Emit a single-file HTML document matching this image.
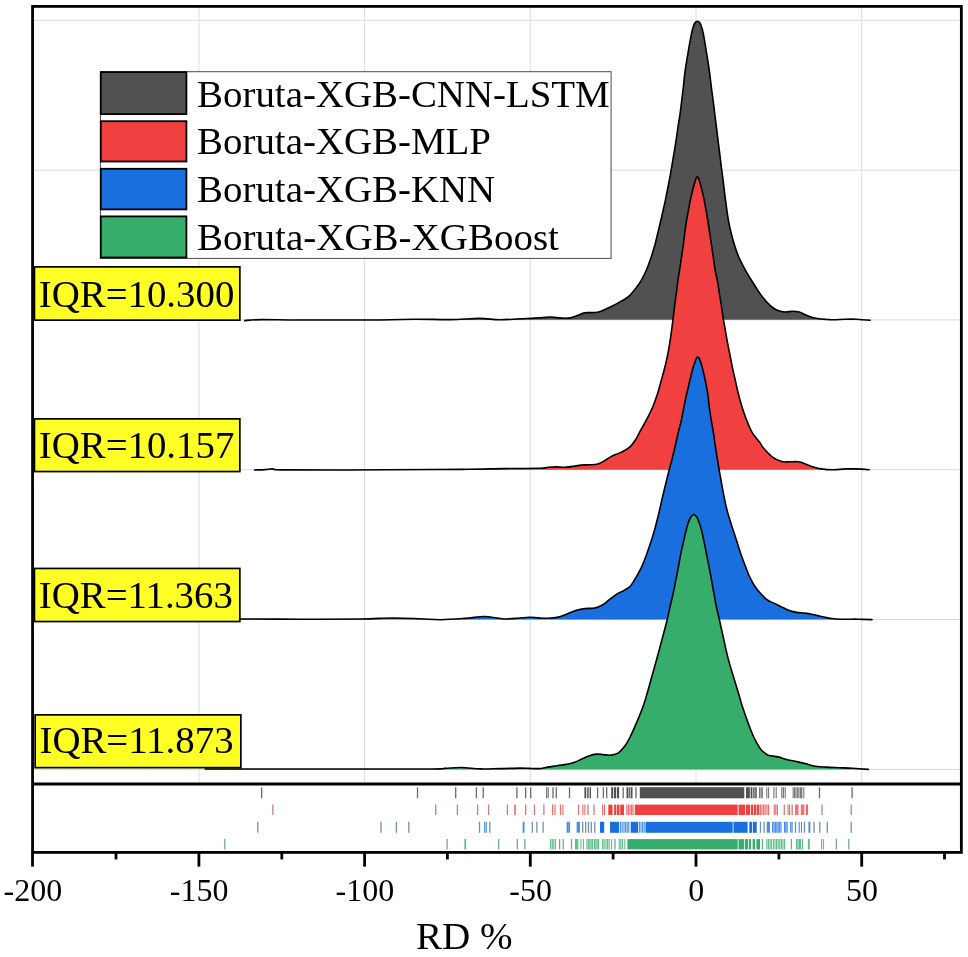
<!DOCTYPE html>
<html lang="en"><head><meta charset="utf-8"><title>RD % ridgeline</title>
<style>
html,body{margin:0;padding:0;background:#fff;}
body{width:968px;height:957px;overflow:hidden;}
svg{display:block;}
text{font-family:"Liberation Serif","Times New Roman",serif;fill:#000;}
</style></head><body>
<svg width="968" height="957" viewBox="0 0 968 957">
<rect width="968" height="957" fill="#fff"/>

<g stroke="#dcdcdc" stroke-width="1" fill="none">
<line x1="32.55" y1="20.3" x2="961.35" y2="20.3"/>
<line x1="32.55" y1="170.1" x2="961.35" y2="170.1"/>
<line x1="32.55" y1="319.9" x2="961.35" y2="319.9"/>
<line x1="32.55" y1="469.7" x2="961.35" y2="469.7"/>
<line x1="32.55" y1="619.5" x2="961.35" y2="619.5"/>
<line x1="32.55" y1="769.4" x2="961.35" y2="769.4"/>
<line x1="198.9" y1="6.4" x2="198.9" y2="784.0"/>
<line x1="364.6" y1="6.4" x2="364.6" y2="784.0"/>
<line x1="530.3" y1="6.4" x2="530.3" y2="784.0"/>
<line x1="696.0" y1="6.4" x2="696.0" y2="784.0"/>
<line x1="861.7" y1="6.4" x2="861.7" y2="784.0"/>
</g>
<g>
<rect x="100.4" y="71.7" width="510.7" height="186.7" fill="#fff" stroke="#4a4a4a" stroke-width="1"/>
<rect x="100.8" y="72.1" width="85.6" height="42.0" fill="#515151" stroke="#000" stroke-width="1.8"/>
<rect x="100.8" y="121.2" width="85.6" height="40.3" fill="#F14040" stroke="#000" stroke-width="1.8"/>
<rect x="100.8" y="168.8" width="85.6" height="40.6" fill="#1A6FDF" stroke="#000" stroke-width="1.8"/>
<rect x="100.8" y="216.4" width="85.6" height="41.1" fill="#37AD6B" stroke="#000" stroke-width="1.8"/>
<text transform="translate(197.08,106.6) scale(1.0237,1)" font-size="38">Boruta-XGB-CNN-LSTM</text>
<text transform="translate(197.08,154.2) scale(1.0237,1)" font-size="38">Boruta-XGB-MLP</text>
<text transform="translate(197.08,202.1) scale(1.0237,1)" font-size="38">Boruta-XGB-KNN</text>
<text transform="translate(197.07,249.7) scale(1.0268,1)" font-size="38">Boruta-XGB-XGBoost</text>
</g>
<path d="M244.7,320.6C247.6,320.4 252.8,319.7 262.0,319.6C271.2,319.5 280.3,319.9 300.0,320.0C319.7,320.1 361.0,320.1 380.0,320.0C399.0,319.9 402.3,319.3 414.0,319.2C425.7,319.1 439.2,319.7 450.0,319.6C460.8,319.5 470.8,318.4 479.0,318.4C487.2,318.4 492.2,319.7 499.0,319.8C505.8,319.9 513.2,319.1 520.0,318.8C526.8,318.5 535.0,318.2 540.0,317.9C545.0,317.6 547.1,317.1 549.9,317.0C552.6,316.9 554.0,317.4 556.5,317.6C559.0,317.8 562.3,318.3 564.8,318.3C567.3,318.3 569.2,318.1 571.4,317.6C573.6,317.1 575.8,316.1 578.0,315.3C580.2,314.5 582.1,313.3 584.6,312.9C587.1,312.4 590.4,312.8 592.9,312.6C595.4,312.4 596.8,312.7 599.5,311.8C602.2,310.9 606.1,309.0 609.4,307.4C612.7,305.8 616.0,304.3 619.3,302.4C622.6,300.5 626.3,298.6 629.3,295.8C632.3,293.1 635.5,288.5 637.5,285.9C639.5,283.3 639.8,282.9 641.3,280.3C642.8,277.7 644.7,274.1 646.3,270.3C647.9,266.6 649.6,262.0 651.0,257.8C652.4,253.6 653.6,249.4 654.8,245.2C655.9,241.0 656.9,236.9 657.9,232.7C658.9,228.5 660.0,224.1 660.9,220.2C661.8,216.3 662.6,212.4 663.3,209.5C663.9,206.6 664.1,206.1 664.8,202.9C665.5,199.7 666.5,194.5 667.3,190.3C668.1,186.1 669.0,182.0 669.8,177.8C670.6,173.6 671.3,169.4 672.0,165.2C672.7,161.0 673.4,156.9 674.1,152.7C674.8,148.5 675.5,144.4 676.1,140.2C676.7,136.0 677.3,131.8 677.9,127.6C678.5,123.4 679.3,119.3 679.9,115.1C680.5,110.9 680.9,107.1 681.5,102.5C682.1,97.9 682.7,92.6 683.3,87.6C683.9,82.6 684.3,77.3 684.9,72.7C685.5,68.1 686.1,64.4 686.8,60.2C687.5,56.0 688.2,51.8 688.9,47.6C689.6,43.4 690.6,38.2 691.2,35.1C691.8,32.0 692.1,30.8 692.7,28.8C693.3,26.8 694.0,24.2 694.8,23.0C695.6,21.8 696.4,21.3 697.3,21.3C698.1,21.3 699.1,21.8 699.9,23.0C700.7,24.2 701.5,26.8 702.1,28.8C702.7,30.8 703.0,32.0 703.6,35.1C704.2,38.2 705.0,43.4 705.7,47.6C706.4,51.8 707.1,56.0 707.7,60.2C708.4,64.4 709.0,68.1 709.6,72.7C710.2,77.3 710.8,82.6 711.4,87.6C712.0,92.6 712.8,97.9 713.4,102.5C714.0,107.1 714.4,110.9 714.9,115.1C715.4,119.3 716.0,123.4 716.5,127.6C717.0,131.8 717.5,136.0 718.0,140.2C718.5,144.4 719.1,148.5 719.6,152.7C720.1,156.9 720.6,161.0 721.1,165.2C721.6,169.4 722.3,173.6 722.8,177.8C723.3,182.0 723.8,186.1 724.3,190.3C724.8,194.5 725.2,197.9 725.9,202.9C726.6,207.9 727.5,215.3 728.4,220.2C729.2,225.1 730.0,228.4 731.0,232.5C732.0,236.6 733.2,240.8 734.5,245.0C735.8,249.2 737.2,253.4 739.0,257.5C740.8,261.6 743.0,265.7 745.2,269.8C747.5,273.9 750.1,278.1 752.5,282.0C754.9,285.9 757.4,289.8 759.7,293.1C762.0,296.4 764.2,299.3 766.5,301.8C768.8,304.3 771.1,306.4 773.3,308.0C775.5,309.6 777.4,310.4 779.5,311.1C781.6,311.8 783.5,312.0 785.7,312.0C787.9,312.0 790.2,311.2 792.5,311.2C794.8,311.2 797.1,311.4 799.3,312.0C801.5,312.6 803.4,313.9 805.5,314.8C807.6,315.7 809.4,316.6 811.7,317.3C814.0,318.0 816.5,318.4 819.2,318.8C821.9,319.2 825.3,319.3 827.8,319.5C830.3,319.7 831.1,319.9 834.0,319.8C836.9,319.8 841.3,319.3 845.0,319.2C848.7,319.1 852.0,319.0 856.2,319.2C860.4,319.4 867.8,320.0 870.1,320.2L870.1,319.8L244.7,319.8Z" fill="#515151" stroke="none"/>
<path d="M244.7,320.6C247.6,320.4 252.8,319.7 262.0,319.6C271.2,319.5 280.3,319.9 300.0,320.0C319.7,320.1 361.0,320.1 380.0,320.0C399.0,319.9 402.3,319.3 414.0,319.2C425.7,319.1 439.2,319.7 450.0,319.6C460.8,319.5 470.8,318.4 479.0,318.4C487.2,318.4 492.2,319.7 499.0,319.8C505.8,319.9 513.2,319.1 520.0,318.8C526.8,318.5 535.0,318.2 540.0,317.9C545.0,317.6 547.1,317.1 549.9,317.0C552.6,316.9 554.0,317.4 556.5,317.6C559.0,317.8 562.3,318.3 564.8,318.3C567.3,318.3 569.2,318.1 571.4,317.6C573.6,317.1 575.8,316.1 578.0,315.3C580.2,314.5 582.1,313.3 584.6,312.9C587.1,312.4 590.4,312.8 592.9,312.6C595.4,312.4 596.8,312.7 599.5,311.8C602.2,310.9 606.1,309.0 609.4,307.4C612.7,305.8 616.0,304.3 619.3,302.4C622.6,300.5 626.3,298.6 629.3,295.8C632.3,293.1 635.5,288.5 637.5,285.9C639.5,283.3 639.8,282.9 641.3,280.3C642.8,277.7 644.7,274.1 646.3,270.3C647.9,266.6 649.6,262.0 651.0,257.8C652.4,253.6 653.6,249.4 654.8,245.2C655.9,241.0 656.9,236.9 657.9,232.7C658.9,228.5 660.0,224.1 660.9,220.2C661.8,216.3 662.6,212.4 663.3,209.5C663.9,206.6 664.1,206.1 664.8,202.9C665.5,199.7 666.5,194.5 667.3,190.3C668.1,186.1 669.0,182.0 669.8,177.8C670.6,173.6 671.3,169.4 672.0,165.2C672.7,161.0 673.4,156.9 674.1,152.7C674.8,148.5 675.5,144.4 676.1,140.2C676.7,136.0 677.3,131.8 677.9,127.6C678.5,123.4 679.3,119.3 679.9,115.1C680.5,110.9 680.9,107.1 681.5,102.5C682.1,97.9 682.7,92.6 683.3,87.6C683.9,82.6 684.3,77.3 684.9,72.7C685.5,68.1 686.1,64.4 686.8,60.2C687.5,56.0 688.2,51.8 688.9,47.6C689.6,43.4 690.6,38.2 691.2,35.1C691.8,32.0 692.1,30.8 692.7,28.8C693.3,26.8 694.0,24.2 694.8,23.0C695.6,21.8 696.4,21.3 697.3,21.3C698.1,21.3 699.1,21.8 699.9,23.0C700.7,24.2 701.5,26.8 702.1,28.8C702.7,30.8 703.0,32.0 703.6,35.1C704.2,38.2 705.0,43.4 705.7,47.6C706.4,51.8 707.1,56.0 707.7,60.2C708.4,64.4 709.0,68.1 709.6,72.7C710.2,77.3 710.8,82.6 711.4,87.6C712.0,92.6 712.8,97.9 713.4,102.5C714.0,107.1 714.4,110.9 714.9,115.1C715.4,119.3 716.0,123.4 716.5,127.6C717.0,131.8 717.5,136.0 718.0,140.2C718.5,144.4 719.1,148.5 719.6,152.7C720.1,156.9 720.6,161.0 721.1,165.2C721.6,169.4 722.3,173.6 722.8,177.8C723.3,182.0 723.8,186.1 724.3,190.3C724.8,194.5 725.2,197.9 725.9,202.9C726.6,207.9 727.5,215.3 728.4,220.2C729.2,225.1 730.0,228.4 731.0,232.5C732.0,236.6 733.2,240.8 734.5,245.0C735.8,249.2 737.2,253.4 739.0,257.5C740.8,261.6 743.0,265.7 745.2,269.8C747.5,273.9 750.1,278.1 752.5,282.0C754.9,285.9 757.4,289.8 759.7,293.1C762.0,296.4 764.2,299.3 766.5,301.8C768.8,304.3 771.1,306.4 773.3,308.0C775.5,309.6 777.4,310.4 779.5,311.1C781.6,311.8 783.5,312.0 785.7,312.0C787.9,312.0 790.2,311.2 792.5,311.2C794.8,311.2 797.1,311.4 799.3,312.0C801.5,312.6 803.4,313.9 805.5,314.8C807.6,315.7 809.4,316.6 811.7,317.3C814.0,318.0 816.5,318.4 819.2,318.8C821.9,319.2 825.3,319.3 827.8,319.5C830.3,319.7 831.1,319.9 834.0,319.8C836.9,319.8 841.3,319.3 845.0,319.2C848.7,319.1 852.0,319.0 856.2,319.2C860.4,319.4 867.8,320.0 870.1,320.2" fill="none" stroke="#000" stroke-width="1.6" stroke-linejoin="round" stroke-linecap="round"/>
<path d="M254.5,470.0C256.2,469.9 262.0,469.8 265.0,469.6C268.0,469.4 269.8,468.8 272.6,468.8C275.4,468.9 269.1,469.7 282.0,469.9C294.9,470.1 324.7,470.1 350.0,470.0C375.3,469.9 414.0,469.6 434.0,469.5C454.0,469.4 458.5,469.4 470.0,469.3C481.5,469.2 491.3,468.8 503.0,468.6C514.7,468.4 532.5,468.5 540.0,468.3C547.5,468.1 545.5,467.5 548.3,467.3C551.0,467.1 553.8,466.9 556.5,466.9C559.2,466.9 562.0,467.4 564.8,467.3C567.6,467.2 570.4,466.8 573.1,466.4C575.9,466.0 578.5,465.4 581.3,465.1C584.0,464.8 586.8,465.0 589.6,464.8C592.4,464.6 595.1,464.8 597.9,464.0C600.6,463.2 603.6,461.2 606.1,459.8C608.6,458.4 610.2,456.9 612.7,455.7C615.2,454.5 618.2,453.8 621.0,452.4C623.8,451.0 626.8,449.6 629.3,447.4C631.8,445.2 634.1,441.9 635.9,439.2C637.7,436.5 638.3,434.6 640.0,431.4C641.7,428.2 644.2,424.1 646.3,420.1C648.4,416.1 650.6,411.9 652.5,407.5C654.4,403.1 656.1,398.0 657.6,393.5C659.1,389.0 660.1,384.6 661.3,380.3C662.5,376.0 663.7,372.0 664.7,367.8C665.8,363.6 666.8,359.4 667.6,355.2C668.5,351.0 669.1,346.9 669.8,342.7C670.5,338.5 671.0,334.4 671.6,330.2C672.2,326.0 672.7,321.8 673.2,317.6C673.7,313.4 674.2,309.3 674.7,305.1C675.2,300.9 675.9,296.7 676.4,292.5C676.9,288.3 677.5,283.7 678.0,280.0C678.5,276.3 678.9,274.0 679.5,270.3C680.1,266.6 680.8,262.0 681.4,257.8C682.0,253.6 682.7,249.4 683.3,245.2C683.9,241.0 684.2,236.9 684.8,232.7C685.3,228.5 685.9,224.4 686.6,220.2C687.3,216.0 688.1,211.8 688.9,207.6C689.7,203.4 690.4,199.3 691.4,195.1C692.4,190.9 694.0,185.2 694.8,182.5C695.6,179.8 695.6,179.6 696.0,178.6C696.4,177.6 696.8,176.7 697.3,176.7C697.8,176.7 698.3,177.6 698.7,178.6C699.1,179.6 699.2,179.8 699.9,182.5C700.6,185.2 702.1,190.9 703.1,195.1C704.1,199.3 704.8,203.4 705.6,207.6C706.4,211.8 707.0,216.0 707.7,220.2C708.4,224.4 709.0,228.5 709.6,232.7C710.2,236.9 710.9,241.0 711.5,245.2C712.1,249.4 712.8,253.6 713.4,257.8C714.0,262.0 714.5,266.4 715.2,270.3C715.9,274.2 716.8,277.8 717.5,281.5C718.2,285.2 718.6,288.6 719.2,292.5C719.8,296.4 720.6,300.9 721.3,305.1C721.9,309.3 722.4,313.4 723.1,317.6C723.8,321.8 724.6,326.0 725.3,330.2C726.0,334.4 726.7,338.5 727.5,342.7C728.3,346.9 729.2,351.0 730.0,355.2C730.8,359.4 731.6,363.6 732.5,367.8C733.4,372.0 734.3,376.0 735.3,380.3C736.3,384.6 737.1,389.0 738.3,393.5C739.4,398.0 740.8,403.1 742.2,407.5C743.6,411.9 744.9,415.9 746.6,420.1C748.3,424.3 750.0,428.9 752.2,432.6C754.4,436.4 758.2,440.1 760.0,442.6C761.8,445.1 761.1,445.4 763.2,447.8C765.3,450.2 769.4,454.8 772.5,457.1C775.6,459.4 779.0,460.8 781.8,461.6C784.6,462.4 786.5,461.8 789.3,461.8C792.1,461.8 795.7,461.4 798.5,461.8C801.3,462.2 803.5,463.3 806.0,464.2C808.5,465.1 810.9,466.2 813.4,467.0C815.9,467.8 817.5,468.4 820.9,468.9C824.3,469.4 829.9,469.8 833.9,469.8C837.9,469.8 841.3,469.0 845.0,468.9C848.7,468.8 852.2,468.8 856.2,468.9C860.2,469.0 867.0,469.6 869.2,469.8L869.2,469.8L254.5,469.8Z" fill="#F14040" stroke="none"/>
<path d="M254.5,470.0C256.2,469.9 262.0,469.8 265.0,469.6C268.0,469.4 269.8,468.8 272.6,468.8C275.4,468.9 269.1,469.7 282.0,469.9C294.9,470.1 324.7,470.1 350.0,470.0C375.3,469.9 414.0,469.6 434.0,469.5C454.0,469.4 458.5,469.4 470.0,469.3C481.5,469.2 491.3,468.8 503.0,468.6C514.7,468.4 532.5,468.5 540.0,468.3C547.5,468.1 545.5,467.5 548.3,467.3C551.0,467.1 553.8,466.9 556.5,466.9C559.2,466.9 562.0,467.4 564.8,467.3C567.6,467.2 570.4,466.8 573.1,466.4C575.9,466.0 578.5,465.4 581.3,465.1C584.0,464.8 586.8,465.0 589.6,464.8C592.4,464.6 595.1,464.8 597.9,464.0C600.6,463.2 603.6,461.2 606.1,459.8C608.6,458.4 610.2,456.9 612.7,455.7C615.2,454.5 618.2,453.8 621.0,452.4C623.8,451.0 626.8,449.6 629.3,447.4C631.8,445.2 634.1,441.9 635.9,439.2C637.7,436.5 638.3,434.6 640.0,431.4C641.7,428.2 644.2,424.1 646.3,420.1C648.4,416.1 650.6,411.9 652.5,407.5C654.4,403.1 656.1,398.0 657.6,393.5C659.1,389.0 660.1,384.6 661.3,380.3C662.5,376.0 663.7,372.0 664.7,367.8C665.8,363.6 666.8,359.4 667.6,355.2C668.5,351.0 669.1,346.9 669.8,342.7C670.5,338.5 671.0,334.4 671.6,330.2C672.2,326.0 672.7,321.8 673.2,317.6C673.7,313.4 674.2,309.3 674.7,305.1C675.2,300.9 675.9,296.7 676.4,292.5C676.9,288.3 677.5,283.7 678.0,280.0C678.5,276.3 678.9,274.0 679.5,270.3C680.1,266.6 680.8,262.0 681.4,257.8C682.0,253.6 682.7,249.4 683.3,245.2C683.9,241.0 684.2,236.9 684.8,232.7C685.3,228.5 685.9,224.4 686.6,220.2C687.3,216.0 688.1,211.8 688.9,207.6C689.7,203.4 690.4,199.3 691.4,195.1C692.4,190.9 694.0,185.2 694.8,182.5C695.6,179.8 695.6,179.6 696.0,178.6C696.4,177.6 696.8,176.7 697.3,176.7C697.8,176.7 698.3,177.6 698.7,178.6C699.1,179.6 699.2,179.8 699.9,182.5C700.6,185.2 702.1,190.9 703.1,195.1C704.1,199.3 704.8,203.4 705.6,207.6C706.4,211.8 707.0,216.0 707.7,220.2C708.4,224.4 709.0,228.5 709.6,232.7C710.2,236.9 710.9,241.0 711.5,245.2C712.1,249.4 712.8,253.6 713.4,257.8C714.0,262.0 714.5,266.4 715.2,270.3C715.9,274.2 716.8,277.8 717.5,281.5C718.2,285.2 718.6,288.6 719.2,292.5C719.8,296.4 720.6,300.9 721.3,305.1C721.9,309.3 722.4,313.4 723.1,317.6C723.8,321.8 724.6,326.0 725.3,330.2C726.0,334.4 726.7,338.5 727.5,342.7C728.3,346.9 729.2,351.0 730.0,355.2C730.8,359.4 731.6,363.6 732.5,367.8C733.4,372.0 734.3,376.0 735.3,380.3C736.3,384.6 737.1,389.0 738.3,393.5C739.4,398.0 740.8,403.1 742.2,407.5C743.6,411.9 744.9,415.9 746.6,420.1C748.3,424.3 750.0,428.9 752.2,432.6C754.4,436.4 758.2,440.1 760.0,442.6C761.8,445.1 761.1,445.4 763.2,447.8C765.3,450.2 769.4,454.8 772.5,457.1C775.6,459.4 779.0,460.8 781.8,461.6C784.6,462.4 786.5,461.8 789.3,461.8C792.1,461.8 795.7,461.4 798.5,461.8C801.3,462.2 803.5,463.3 806.0,464.2C808.5,465.1 810.9,466.2 813.4,467.0C815.9,467.8 817.5,468.4 820.9,468.9C824.3,469.4 829.9,469.8 833.9,469.8C837.9,469.8 841.3,469.0 845.0,468.9C848.7,468.8 852.2,468.8 856.2,468.9C860.2,469.0 867.0,469.6 869.2,469.8" fill="none" stroke="#000" stroke-width="1.6" stroke-linejoin="round" stroke-linecap="round"/>
<path d="M240.0,619.0C250.0,619.0 280.0,619.2 300.0,619.2C320.0,619.2 344.4,619.2 360.0,619.0C375.6,618.8 383.7,618.0 393.7,618.0C403.7,618.0 412.1,618.5 420.0,618.8C427.9,619.1 433.5,619.8 441.0,619.7C448.5,619.6 457.8,618.9 465.0,618.4C472.2,617.9 478.7,616.6 484.0,616.5C489.3,616.4 493.3,617.6 497.0,618.0C500.7,618.4 502.5,619.0 506.0,619.0C509.5,619.0 514.1,618.6 518.0,618.3C521.9,618.0 525.9,617.3 529.3,617.2C532.7,617.1 535.5,617.7 538.6,617.9C541.7,618.1 544.8,618.4 547.9,618.3C551.0,618.2 554.1,618.1 557.2,617.4C560.3,616.7 563.4,615.4 566.5,614.2C569.6,613.1 572.7,611.4 575.8,610.5C578.9,609.6 582.0,609.0 585.1,608.6C588.2,608.2 591.6,608.7 594.4,608.1C597.2,607.5 599.3,606.7 601.8,605.3C604.3,603.9 606.8,601.6 609.3,599.7C611.8,597.8 614.2,595.7 616.7,594.1C619.2,592.5 621.9,591.7 624.1,590.4C626.3,589.1 628.3,588.2 630.0,586.5C631.7,584.8 632.5,583.3 634.4,580.2C636.3,577.1 639.3,571.9 641.3,567.7C643.3,563.5 644.7,559.4 646.3,555.2C647.9,551.0 649.3,546.8 650.7,542.6C652.1,538.4 653.3,534.3 654.5,530.1C655.7,525.9 656.8,521.4 657.8,517.5C658.8,513.6 659.5,510.2 660.4,506.5C661.2,502.8 662.0,499.2 662.9,495.3C663.8,491.4 665.0,487.0 666.0,482.8C667.0,478.6 668.0,474.4 669.1,470.2C670.2,466.0 671.4,461.9 672.4,457.7C673.4,453.5 674.4,449.4 675.4,445.2C676.4,441.0 677.2,436.8 678.2,432.6C679.2,428.4 680.5,424.3 681.4,420.1C682.3,415.9 683.1,411.5 683.9,407.5C684.7,403.5 685.2,400.5 686.2,396.0C687.2,391.5 688.8,385.0 689.9,380.3C691.0,375.6 692.1,370.9 693.0,367.8C693.9,364.7 694.6,363.1 695.2,361.5C695.8,359.9 696.0,359.0 696.4,358.2C696.8,357.4 697.3,356.7 697.7,356.7C698.1,356.7 698.5,357.4 699.0,358.2C699.5,359.0 699.9,359.9 700.4,361.5C700.9,363.1 701.5,364.7 702.3,367.8C703.1,370.9 704.3,376.0 705.2,380.3C706.1,384.6 707.0,389.0 707.7,393.5C708.4,398.0 708.7,403.1 709.3,407.5C709.9,411.9 710.5,415.9 711.2,420.1C711.9,424.3 712.7,428.4 713.4,432.6C714.1,436.8 714.6,441.0 715.2,445.2C715.8,449.4 716.4,453.5 717.1,457.7C717.8,461.9 718.5,466.0 719.2,470.2C719.9,474.4 720.7,478.6 721.5,482.8C722.3,487.0 723.0,491.4 723.8,495.3C724.6,499.2 725.2,502.8 726.1,506.5C727.0,510.2 727.9,513.6 729.1,517.5C730.3,521.4 731.8,525.9 733.1,530.1C734.5,534.3 735.8,538.4 737.2,542.6C738.6,546.8 739.8,551.0 741.3,555.2C742.8,559.4 744.5,564.0 746.0,567.7C747.5,571.5 748.5,574.6 750.0,577.7C751.5,580.8 753.4,584.1 755.0,586.5C756.6,588.9 757.5,590.1 759.5,592.3C761.5,594.5 764.4,597.9 766.9,599.7C769.4,601.6 771.9,602.2 774.4,603.4C776.9,604.6 779.3,605.9 781.8,607.1C784.3,608.3 786.8,609.6 789.3,610.5C791.8,611.4 794.2,612.0 796.7,612.4C799.2,612.8 801.6,612.8 804.1,613.1C806.6,613.4 809.1,613.7 811.6,614.2C814.1,614.7 816.5,615.3 819.0,615.9C821.5,616.5 823.9,617.1 826.4,617.6C828.9,618.1 830.8,618.4 833.9,618.7C837.0,619.0 841.0,619.1 845.0,619.2C849.0,619.3 853.6,619.1 858.1,619.2C862.6,619.3 869.7,619.5 872.0,619.6L872.0,619.6L240.0,619.6Z" fill="#1A6FDF" stroke="none"/>
<path d="M240.0,619.0C250.0,619.0 280.0,619.2 300.0,619.2C320.0,619.2 344.4,619.2 360.0,619.0C375.6,618.8 383.7,618.0 393.7,618.0C403.7,618.0 412.1,618.5 420.0,618.8C427.9,619.1 433.5,619.8 441.0,619.7C448.5,619.6 457.8,618.9 465.0,618.4C472.2,617.9 478.7,616.6 484.0,616.5C489.3,616.4 493.3,617.6 497.0,618.0C500.7,618.4 502.5,619.0 506.0,619.0C509.5,619.0 514.1,618.6 518.0,618.3C521.9,618.0 525.9,617.3 529.3,617.2C532.7,617.1 535.5,617.7 538.6,617.9C541.7,618.1 544.8,618.4 547.9,618.3C551.0,618.2 554.1,618.1 557.2,617.4C560.3,616.7 563.4,615.4 566.5,614.2C569.6,613.1 572.7,611.4 575.8,610.5C578.9,609.6 582.0,609.0 585.1,608.6C588.2,608.2 591.6,608.7 594.4,608.1C597.2,607.5 599.3,606.7 601.8,605.3C604.3,603.9 606.8,601.6 609.3,599.7C611.8,597.8 614.2,595.7 616.7,594.1C619.2,592.5 621.9,591.7 624.1,590.4C626.3,589.1 628.3,588.2 630.0,586.5C631.7,584.8 632.5,583.3 634.4,580.2C636.3,577.1 639.3,571.9 641.3,567.7C643.3,563.5 644.7,559.4 646.3,555.2C647.9,551.0 649.3,546.8 650.7,542.6C652.1,538.4 653.3,534.3 654.5,530.1C655.7,525.9 656.8,521.4 657.8,517.5C658.8,513.6 659.5,510.2 660.4,506.5C661.2,502.8 662.0,499.2 662.9,495.3C663.8,491.4 665.0,487.0 666.0,482.8C667.0,478.6 668.0,474.4 669.1,470.2C670.2,466.0 671.4,461.9 672.4,457.7C673.4,453.5 674.4,449.4 675.4,445.2C676.4,441.0 677.2,436.8 678.2,432.6C679.2,428.4 680.5,424.3 681.4,420.1C682.3,415.9 683.1,411.5 683.9,407.5C684.7,403.5 685.2,400.5 686.2,396.0C687.2,391.5 688.8,385.0 689.9,380.3C691.0,375.6 692.1,370.9 693.0,367.8C693.9,364.7 694.6,363.1 695.2,361.5C695.8,359.9 696.0,359.0 696.4,358.2C696.8,357.4 697.3,356.7 697.7,356.7C698.1,356.7 698.5,357.4 699.0,358.2C699.5,359.0 699.9,359.9 700.4,361.5C700.9,363.1 701.5,364.7 702.3,367.8C703.1,370.9 704.3,376.0 705.2,380.3C706.1,384.6 707.0,389.0 707.7,393.5C708.4,398.0 708.7,403.1 709.3,407.5C709.9,411.9 710.5,415.9 711.2,420.1C711.9,424.3 712.7,428.4 713.4,432.6C714.1,436.8 714.6,441.0 715.2,445.2C715.8,449.4 716.4,453.5 717.1,457.7C717.8,461.9 718.5,466.0 719.2,470.2C719.9,474.4 720.7,478.6 721.5,482.8C722.3,487.0 723.0,491.4 723.8,495.3C724.6,499.2 725.2,502.8 726.1,506.5C727.0,510.2 727.9,513.6 729.1,517.5C730.3,521.4 731.8,525.9 733.1,530.1C734.5,534.3 735.8,538.4 737.2,542.6C738.6,546.8 739.8,551.0 741.3,555.2C742.8,559.4 744.5,564.0 746.0,567.7C747.5,571.5 748.5,574.6 750.0,577.7C751.5,580.8 753.4,584.1 755.0,586.5C756.6,588.9 757.5,590.1 759.5,592.3C761.5,594.5 764.4,597.9 766.9,599.7C769.4,601.6 771.9,602.2 774.4,603.4C776.9,604.6 779.3,605.9 781.8,607.1C784.3,608.3 786.8,609.6 789.3,610.5C791.8,611.4 794.2,612.0 796.7,612.4C799.2,612.8 801.6,612.8 804.1,613.1C806.6,613.4 809.1,613.7 811.6,614.2C814.1,614.7 816.5,615.3 819.0,615.9C821.5,616.5 823.9,617.1 826.4,617.6C828.9,618.1 830.8,618.4 833.9,618.7C837.0,619.0 841.0,619.1 845.0,619.2C849.0,619.3 853.6,619.1 858.1,619.2C862.6,619.3 869.7,619.5 872.0,619.6" fill="none" stroke="#000" stroke-width="1.6" stroke-linejoin="round" stroke-linecap="round"/>
<path d="M205.3,769.0C221.1,769.0 263.1,769.0 300.0,769.0C336.9,769.0 402.8,769.1 427.0,769.0C451.2,768.9 439.3,768.6 445.0,768.4C450.7,768.1 455.5,767.4 461.4,767.5C467.3,767.6 474.1,768.7 480.5,768.9C486.9,769.1 493.4,768.7 500.0,768.6C506.6,768.5 515.1,768.1 520.0,768.1C524.9,768.1 526.2,768.3 529.3,768.4C532.4,768.5 535.5,768.8 538.6,768.6C541.7,768.4 544.8,767.6 547.9,767.1C551.0,766.6 554.1,766.2 557.2,765.7C560.3,765.2 563.7,764.9 566.5,764.4C569.3,763.9 571.4,763.4 573.9,762.5C576.4,761.6 578.9,760.4 581.4,759.3C583.9,758.2 586.3,756.9 588.8,756.0C591.3,755.1 593.7,754.3 596.2,754.1C598.7,753.9 601.2,754.5 603.7,754.7C606.2,754.9 608.6,755.4 611.1,755.1C613.6,754.8 616.2,754.3 618.5,752.8C620.8,751.2 623.1,748.4 625.0,745.8C626.9,743.2 628.1,740.9 630.1,737.0C632.1,733.1 634.6,727.3 636.7,722.4C638.8,717.5 640.9,712.7 642.6,707.8C644.4,702.9 645.8,698.0 647.2,693.1C648.7,688.2 649.9,683.4 651.3,678.5C652.7,673.6 654.0,668.8 655.4,663.9C656.8,659.0 658.1,654.2 659.4,649.3C660.7,644.4 662.0,639.4 663.3,634.6C664.6,629.8 665.8,625.4 667.0,620.5C668.2,615.6 669.4,609.9 670.4,605.3C671.4,600.7 672.4,597.0 673.3,592.8C674.2,588.6 675.0,584.4 675.8,580.2C676.6,576.0 677.5,571.9 678.3,567.7C679.1,563.5 679.7,559.4 680.5,555.2C681.3,551.0 682.3,546.8 683.3,542.6C684.2,538.4 685.4,533.2 686.2,530.1C687.0,527.0 687.2,525.9 687.9,523.8C688.6,521.7 689.6,519.0 690.6,517.5C691.6,516.0 692.5,514.5 693.6,514.5C694.7,514.5 696.1,516.0 697.1,517.5C698.1,519.0 698.9,521.7 699.6,523.8C700.3,525.9 700.7,527.0 701.5,530.1C702.3,533.2 703.3,538.4 704.2,542.6C705.1,546.8 705.9,551.0 706.7,555.2C707.5,559.4 708.4,563.5 709.2,567.7C710.0,571.9 710.7,576.0 711.5,580.2C712.3,584.4 713.0,588.6 713.8,592.8C714.6,597.0 715.2,600.9 716.1,605.3C717.0,609.7 718.1,614.1 719.2,619.0C720.3,623.9 721.6,629.6 722.7,634.6C723.8,639.6 724.8,644.4 725.9,649.3C727.0,654.2 728.2,659.0 729.6,663.9C731.0,668.8 732.5,673.6 734.0,678.5C735.5,683.4 736.9,688.2 738.4,693.1C739.9,698.0 741.2,702.9 742.8,707.8C744.4,712.7 746.1,717.5 747.9,722.4C749.7,727.3 751.6,732.6 753.7,737.0C755.8,741.4 758.4,746.0 760.3,748.7C762.2,751.4 763.6,752.0 765.0,753.1C766.4,754.2 766.6,754.8 768.8,755.4C771.0,756.0 775.0,756.2 778.1,756.9C781.2,757.6 784.3,758.9 787.4,759.7C790.5,760.5 793.6,760.9 796.7,761.6C799.8,762.3 802.9,763.0 806.0,763.8C809.1,764.6 811.9,765.7 815.3,766.2C818.7,766.8 822.4,766.9 826.4,767.1C830.4,767.4 835.1,767.5 839.5,767.7C843.9,767.9 847.7,768.0 852.5,768.3C857.3,768.6 865.7,769.2 868.3,769.4L868.3,769.6L205.3,769.6Z" fill="#37AD6B" stroke="none"/>
<path d="M205.3,769.0C221.1,769.0 263.1,769.0 300.0,769.0C336.9,769.0 402.8,769.1 427.0,769.0C451.2,768.9 439.3,768.6 445.0,768.4C450.7,768.1 455.5,767.4 461.4,767.5C467.3,767.6 474.1,768.7 480.5,768.9C486.9,769.1 493.4,768.7 500.0,768.6C506.6,768.5 515.1,768.1 520.0,768.1C524.9,768.1 526.2,768.3 529.3,768.4C532.4,768.5 535.5,768.8 538.6,768.6C541.7,768.4 544.8,767.6 547.9,767.1C551.0,766.6 554.1,766.2 557.2,765.7C560.3,765.2 563.7,764.9 566.5,764.4C569.3,763.9 571.4,763.4 573.9,762.5C576.4,761.6 578.9,760.4 581.4,759.3C583.9,758.2 586.3,756.9 588.8,756.0C591.3,755.1 593.7,754.3 596.2,754.1C598.7,753.9 601.2,754.5 603.7,754.7C606.2,754.9 608.6,755.4 611.1,755.1C613.6,754.8 616.2,754.3 618.5,752.8C620.8,751.2 623.1,748.4 625.0,745.8C626.9,743.2 628.1,740.9 630.1,737.0C632.1,733.1 634.6,727.3 636.7,722.4C638.8,717.5 640.9,712.7 642.6,707.8C644.4,702.9 645.8,698.0 647.2,693.1C648.7,688.2 649.9,683.4 651.3,678.5C652.7,673.6 654.0,668.8 655.4,663.9C656.8,659.0 658.1,654.2 659.4,649.3C660.7,644.4 662.0,639.4 663.3,634.6C664.6,629.8 665.8,625.4 667.0,620.5C668.2,615.6 669.4,609.9 670.4,605.3C671.4,600.7 672.4,597.0 673.3,592.8C674.2,588.6 675.0,584.4 675.8,580.2C676.6,576.0 677.5,571.9 678.3,567.7C679.1,563.5 679.7,559.4 680.5,555.2C681.3,551.0 682.3,546.8 683.3,542.6C684.2,538.4 685.4,533.2 686.2,530.1C687.0,527.0 687.2,525.9 687.9,523.8C688.6,521.7 689.6,519.0 690.6,517.5C691.6,516.0 692.5,514.5 693.6,514.5C694.7,514.5 696.1,516.0 697.1,517.5C698.1,519.0 698.9,521.7 699.6,523.8C700.3,525.9 700.7,527.0 701.5,530.1C702.3,533.2 703.3,538.4 704.2,542.6C705.1,546.8 705.9,551.0 706.7,555.2C707.5,559.4 708.4,563.5 709.2,567.7C710.0,571.9 710.7,576.0 711.5,580.2C712.3,584.4 713.0,588.6 713.8,592.8C714.6,597.0 715.2,600.9 716.1,605.3C717.0,609.7 718.1,614.1 719.2,619.0C720.3,623.9 721.6,629.6 722.7,634.6C723.8,639.6 724.8,644.4 725.9,649.3C727.0,654.2 728.2,659.0 729.6,663.9C731.0,668.8 732.5,673.6 734.0,678.5C735.5,683.4 736.9,688.2 738.4,693.1C739.9,698.0 741.2,702.9 742.8,707.8C744.4,712.7 746.1,717.5 747.9,722.4C749.7,727.3 751.6,732.6 753.7,737.0C755.8,741.4 758.4,746.0 760.3,748.7C762.2,751.4 763.6,752.0 765.0,753.1C766.4,754.2 766.6,754.8 768.8,755.4C771.0,756.0 775.0,756.2 778.1,756.9C781.2,757.6 784.3,758.9 787.4,759.7C790.5,760.5 793.6,760.9 796.7,761.6C799.8,762.3 802.9,763.0 806.0,763.8C809.1,764.6 811.9,765.7 815.3,766.2C818.7,766.8 822.4,766.9 826.4,767.1C830.4,767.4 835.1,767.5 839.5,767.7C843.9,767.9 847.7,768.0 852.5,768.3C857.3,768.6 865.7,769.2 868.3,769.4" fill="none" stroke="#000" stroke-width="1.6" stroke-linejoin="round" stroke-linecap="round"/>
<rect x="34.45" y="266.85" width="205.40" height="53.30" fill="#FFFF26" stroke="#000" stroke-width="1.7"/>
<text transform="translate(38.78,306.9) scale(1.022,1)" font-size="38">IQR=10.300</text>
<rect x="34.45" y="418.85" width="205.40" height="52.70" fill="#FFFF26" stroke="#000" stroke-width="1.7"/>
<text transform="translate(38.78,458.0) scale(1.022,1)" font-size="38">IQR=10.157</text>
<rect x="34.45" y="568.45" width="205.40" height="53.10" fill="#FFFF26" stroke="#000" stroke-width="1.7"/>
<text transform="translate(38.78,607.6) scale(1.022,1)" font-size="38">IQR=11.363</text>
<rect x="35.15" y="714.85" width="205.70" height="52.80" fill="#FFFF26" stroke="#000" stroke-width="1.7"/>
<text transform="translate(39.48,753.0) scale(1.022,1)" font-size="38">IQR=11.873</text>
<g fill="#515151">
<rect x="584.4" y="787.2" width="1.8" height="11.1"/>
<rect x="587.2" y="787.2" width="1.4" height="11.1"/>
<rect x="589.6" y="787.2" width="1.4" height="11.1"/>
<rect x="611.2" y="787.2" width="1.8" height="11.1"/>
<rect x="613.8" y="787.2" width="2.2" height="11.1"/>
<rect x="616.8" y="787.2" width="2.3" height="11.1"/>
<rect x="626.5" y="787.2" width="2.0" height="11.1"/>
<rect x="629.2" y="787.2" width="1.2" height="11.1"/>
<rect x="631.0" y="787.2" width="1.5" height="11.1"/>
<rect x="639.8" y="787.2" width="104.5" height="11.1"/>
<rect x="746.0" y="787.2" width="3.8" height="11.1"/>
<rect x="750.6" y="787.2" width="1.8" height="11.1"/>
<rect x="753.2" y="787.2" width="1.4" height="11.1"/>
<rect x="755.2" y="787.2" width="1.5" height="11.1"/>
</g>
<path d="M261.7,787.2V798.3M417.5,787.2V798.3M455.7,787.2V798.3M476.4,787.2V798.3M483.2,787.2V798.3M516.9,787.2V798.3M525.7,787.2V798.3M530.7,787.2V798.3M553.0,787.2V798.3M556.3,787.2V798.3M569.5,787.2V798.3M597.6,787.2V798.3M603.4,787.2V798.3M606.7,787.2V798.3M623.2,787.2V798.3M636.0,787.2V798.3M819.5,787.2V798.3M852.1,787.2V798.3" fill="none" stroke="#6a6a6a" stroke-width="1.3"/>
<path d="M546.6,787.2V798.3M548.2,787.2V798.3M759.5,787.2V798.3M761.0,787.2V798.3M762.3,787.2V798.3M766.8,787.2V798.3M768.6,787.2V798.3M773.9,787.2V798.3M776.2,787.2V798.3M781.8,787.2V798.3M783.4,787.2V798.3M785.2,787.2V798.3M793.2,787.2V798.3M794.6,787.2V798.3M796.0,787.2V798.3M797.6,787.2V798.3M799.0,787.2V798.3M800.6,787.2V798.3M801.8,787.2V798.3M803.8,787.2V798.3" fill="none" stroke="#515151" stroke-width="1.1" stroke-opacity="0.8"/>
<g fill="#F14040">
<rect x="608.3" y="804.6" width="4.2" height="10.4"/>
<rect x="614.1" y="804.6" width="2.2" height="10.4"/>
<rect x="617.0" y="804.6" width="2.4" height="10.4"/>
<rect x="620.2" y="804.6" width="3.8" height="10.4"/>
<rect x="634.8" y="804.6" width="102.9" height="10.4"/>
<rect x="738.6" y="804.6" width="6.4" height="10.4"/>
<rect x="745.8" y="804.6" width="4.2" height="10.4"/>
<rect x="750.8" y="804.6" width="2.4" height="10.4"/>
<rect x="754.0" y="804.6" width="2.4" height="10.4"/>
<rect x="757.0" y="804.6" width="2.2" height="10.4"/>
</g>
<path d="M272.9,804.6V815.0M435.7,804.6V815.0M457.4,804.6V815.0M477.6,804.6V815.0M488.6,804.6V815.0M507.4,804.6V815.0M525.7,804.6V815.0M534.5,804.6V815.0M543.9,804.6V815.0M578.6,804.6V815.0M588.0,804.6V815.0M594.0,804.6V815.0M784.3,804.6V815.0M792.2,804.6V815.0M822.0,804.6V815.0M851.2,804.6V815.0" fill="none" stroke="#c47e82" stroke-width="1.3"/>
<path d="M514.8,804.6V815.0M515.3,804.6V815.0M552.6,804.6V815.0M555.0,804.6V815.0M560.4,804.6V815.0M562.9,804.6V815.0M582.9,804.6V815.0M584.9,804.6V815.0M602.6,804.6V815.0M604.5,804.6V815.0M626.8,804.6V815.0M628.4,804.6V815.0M630.0,804.6V815.0M631.6,804.6V815.0M633.0,804.6V815.0M760.4,804.6V815.0M762.0,804.6V815.0M763.6,804.6V815.0M765.2,804.6V815.0M767.0,804.6V815.0M768.6,804.6V815.0M774.3,804.6V815.0M775.8,804.6V815.0M777.4,804.6V815.0M788.0,804.6V815.0M789.6,804.6V815.0M795.6,804.6V815.0M796.8,804.6V815.0M798.0,804.6V815.0M801.4,804.6V815.0M802.6,804.6V815.0M803.8,804.6V815.0M806.4,804.6V815.0M807.5,804.6V815.0" fill="none" stroke="#F14040" stroke-width="1.1" stroke-opacity="0.8"/>
<g fill="#1A6FDF">
<rect x="600.0" y="821.8" width="4.2" height="11.0"/>
<rect x="610.0" y="821.8" width="9.1" height="11.0"/>
<rect x="630.7" y="821.8" width="7.4" height="11.0"/>
<rect x="645.5" y="821.8" width="87.2" height="11.0"/>
<rect x="733.5" y="821.8" width="14.1" height="11.0"/>
<rect x="749.3" y="821.8" width="2.7" height="11.0"/>
<rect x="752.8" y="821.8" width="3.9" height="11.0"/>
</g>
<path d="M257.8,821.8V832.8M381.0,821.8V832.8M396.4,821.8V832.8M408.8,821.8V832.8M479.5,821.8V832.8M489.8,821.8V832.8M532.3,821.8V832.8M536.9,821.8V832.8M543.1,821.8V832.8M582.7,821.8V832.8M585.7,821.8V832.8M588.5,821.8V832.8M591.3,821.8V832.8M594.8,821.8V832.8M760.5,821.8V832.8M764.1,821.8V832.8M795.5,821.8V832.8M804.5,821.8V832.8M814.0,821.8V832.8M819.8,821.8V832.8M827.3,821.8V832.8M851.2,821.8V832.8" fill="none" stroke="#7391ab" stroke-width="1.3"/>
<path d="M484.7,821.8V832.8M486.3,821.8V832.8M523.2,821.8V832.8M524.0,821.8V832.8M567.2,821.8V832.8M568.2,821.8V832.8M569.5,821.8V832.8M577.2,821.8V832.8M578.3,821.8V832.8M579.4,821.8V832.8M620.5,821.8V832.8M622.2,821.8V832.8M624.0,821.8V832.8M625.6,821.8V832.8M627.2,821.8V832.8M628.8,821.8V832.8M639.4,821.8V832.8M641.0,821.8V832.8M642.6,821.8V832.8M644.2,821.8V832.8M767.3,821.8V832.8M768.4,821.8V832.8M769.4,821.8V832.8M772.6,821.8V832.8M774.0,821.8V832.8M775.4,821.8V832.8M776.8,821.8V832.8M778.2,821.8V832.8M779.6,821.8V832.8M781.0,821.8V832.8M784.5,821.8V832.8M785.8,821.8V832.8M787.2,821.8V832.8M790.7,821.8V832.8M792.1,821.8V832.8M799.2,821.8V832.8M801.5,821.8V832.8M809.0,821.8V832.8M809.8,821.8V832.8" fill="none" stroke="#1A6FDF" stroke-width="1.1" stroke-opacity="0.8"/>
<g fill="#37AD6B">
<rect x="627.4" y="839.1" width="110.3" height="10.3"/>
<rect x="738.5" y="839.1" width="5.5" height="10.3"/>
<rect x="744.8" y="839.1" width="3.2" height="10.3"/>
<rect x="748.8" y="839.1" width="2.2" height="10.3"/>
<rect x="752.6" y="839.1" width="2.4" height="10.3"/>
<rect x="756.4" y="839.1" width="3.6" height="10.3"/>
</g>
<path d="M224.8,839.1V849.4M447.1,839.1V849.4M498.7,839.1V849.4M517.3,839.1V849.4M524.9,839.1V849.4M559.6,839.1V849.4M563.2,839.1V849.4M571.5,839.1V849.4M615.0,839.1V849.4M762.5,839.1V849.4M791.4,839.1V849.4M836.4,839.1V849.4M848.8,839.1V849.4" fill="none" stroke="#74a895" stroke-width="1.3"/>
<path d="M464.9,839.1V849.4M465.6,839.1V849.4M550.7,839.1V849.4M552.3,839.1V849.4M553.8,839.1V849.4M555.5,839.1V849.4M575.5,839.1V849.4M576.6,839.1V849.4M577.8,839.1V849.4M581.0,839.1V849.4M583.5,839.1V849.4M586.9,839.1V849.4M588.4,839.1V849.4M589.8,839.1V849.4M591.2,839.1V849.4M592.6,839.1V849.4M594.4,839.1V849.4M595.8,839.1V849.4M597.2,839.1V849.4M598.6,839.1V849.4M602.6,839.1V849.4M604.2,839.1V849.4M606.0,839.1V849.4M607.6,839.1V849.4M609.2,839.1V849.4M611.6,839.1V849.4M619.2,839.1V849.4M620.8,839.1V849.4M622.4,839.1V849.4M624.8,839.1V849.4M766.8,839.1V849.4M768.4,839.1V849.4M770.0,839.1V849.4M771.5,839.1V849.4M773.4,839.1V849.4M775.0,839.1V849.4M776.6,839.1V849.4M778.2,839.1V849.4M779.8,839.1V849.4M781.4,839.1V849.4M783.0,839.1V849.4M784.6,839.1V849.4M796.6,839.1V849.4M798.0,839.1V849.4M799.4,839.1V849.4M800.6,839.1V849.4M802.5,839.1V849.4M808.4,839.1V849.4M809.2,839.1V849.4M821.5,839.1V849.4M823.5,839.1V849.4" fill="none" stroke="#37AD6B" stroke-width="1.1" stroke-opacity="0.8"/>
<rect x="32.55" y="6.4" width="928.8000000000001" height="846.0" fill="none" stroke="#000" stroke-width="2.8"/>
<line x1="32.55" y1="784.0" x2="961.35" y2="784.0" stroke="#000" stroke-width="2.8"/>
<g stroke="#000" stroke-width="2.8">
<line x1="32.5" y1="852.4" x2="32.5" y2="866.6"/>
<line x1="116.0" y1="852.4" x2="116.0" y2="859.4"/>
<line x1="198.9" y1="852.4" x2="198.9" y2="866.6"/>
<line x1="281.8" y1="852.4" x2="281.8" y2="859.4"/>
<line x1="364.6" y1="852.4" x2="364.6" y2="866.6"/>
<line x1="447.4" y1="852.4" x2="447.4" y2="859.4"/>
<line x1="530.3" y1="852.4" x2="530.3" y2="866.6"/>
<line x1="613.1" y1="852.4" x2="613.1" y2="859.4"/>
<line x1="696.0" y1="852.4" x2="696.0" y2="866.6"/>
<line x1="778.9" y1="852.4" x2="778.9" y2="859.4"/>
<line x1="861.7" y1="852.4" x2="861.7" y2="866.6"/>
<line x1="944.5" y1="852.4" x2="944.5" y2="859.4"/>
</g>
<text transform="translate(32.8,901.4) scale(1,1)" font-size="32" text-anchor="middle">-200</text>
<text transform="translate(199.2,901.4) scale(1,1)" font-size="32" text-anchor="middle">-150</text>
<text transform="translate(364.9,901.4) scale(1,1)" font-size="32" text-anchor="middle">-100</text>
<text transform="translate(530.6,901.4) scale(1,1)" font-size="32" text-anchor="middle">-50</text>
<text transform="translate(696.3,901.4) scale(1,1)" font-size="32" text-anchor="middle">0</text>
<text transform="translate(862.0,901.4) scale(1,1)" font-size="32" text-anchor="middle">50</text>
<text transform="translate(415.97,949.3) scale(1.028,1)" font-size="38">RD %</text>
</svg></body></html>
